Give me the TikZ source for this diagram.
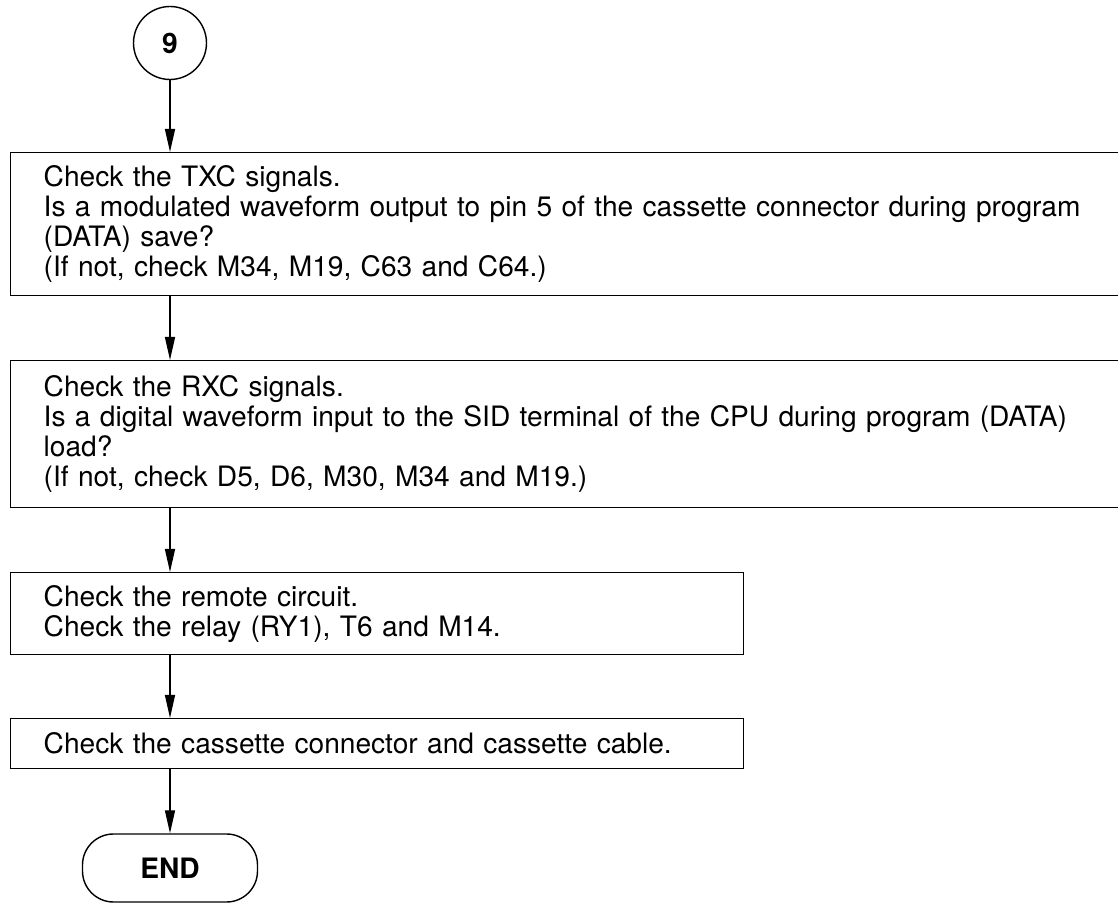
\documentclass[tikz,border=0pt]{standalone}
\usepackage{fontspec}
\setmainfont{TeX Gyre Heros}
\usetikzlibrary{arrows.meta}

\begin{document}
\begin{tikzpicture}[>={Triangle[length=0.46cm, width=0.2cm]},
    every node/.style={font=\fontsize{16}{17}\selectfont},
    stepbox/.style={draw, line width=0.8pt, rectangle, anchor=north west, align=left, inner xsep=0.66cm, inner ysep=0pt},
    flow/.style={->, line width=0.8pt}]
    \useasboundingbox (0,0) rectangle (22.36,-18.08);
    \clip (0,0) rectangle (22.36,-18.08);

    % entry point
    \node[draw, circle, line width=0.8pt, minimum size=1.46cm, inner sep=0pt, font=\fontsize{16}{17}\selectfont\bfseries] (nine) at (3.4,-0.86) {9};

    % check steps
    \node[stepbox, text width=21.28cm, minimum height=2.86cm] (txc) at (0.2,-3.04) {Check the TXC signals.\\
        Is a modulated waveform output to pin 5 of the cassette connector during program\\
        (DATA) save?\\
        (If not, check M34, M19, C63 and C64.)};
    \node[stepbox, text width=21.28cm, minimum height=2.94cm] (rxc) at (0.2,-7.2) {Check the RXC signals.\\
        Is a digital waveform input to the SID terminal of the CPU during program (DATA)\\
        load?\\
        (If not, check D5, D6, M30, M34 and M19.)};
    \node[stepbox, text width=13.34cm, minimum height=1.64cm] (remote) at (0.2,-11.44) {Check the remote circuit.\\
        Check the relay (RY1), T6 and M14.};
    \node[stepbox, text width=13.34cm, minimum height=1.0cm] (cable) at (0.2,-14.36) {Check the cassette connector and cassette cable.};

    % end
    \node[draw, line width=0.8pt, rounded corners=0.62cm, minimum width=3.5cm, minimum height=1.36cm, font=\fontsize{16}{17}\selectfont\bfseries] (stop) at (3.4,-17.36) {END};

    \draw[flow] (nine.south) -- (nine.south |- txc.north);
    \draw[flow] (nine.south |- txc.south) -- (nine.south |- rxc.north);
    \draw[flow] (nine.south |- rxc.south) -- (nine.south |- remote.north);
    \draw[flow] (nine.south |- remote.south) -- (nine.south |- cable.north);
    \draw[flow] (nine.south |- cable.south) -- (stop.north);
\end{tikzpicture}
\end{document}
